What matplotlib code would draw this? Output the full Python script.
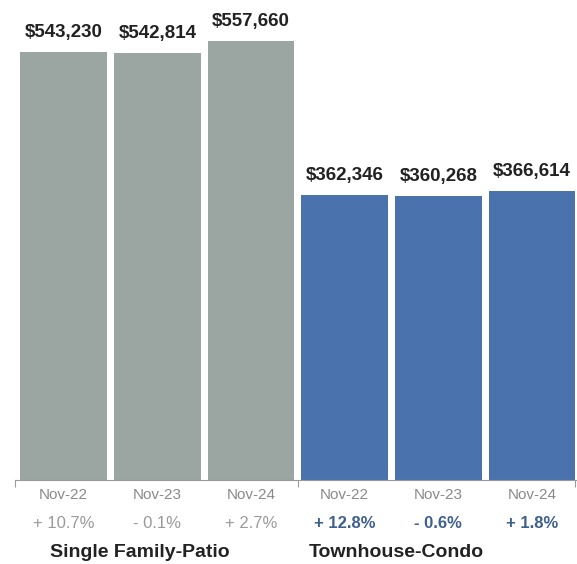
import matplotlib.pyplot as plt

plt.rcParams['font.family'] = ['Liberation Sans', 'DejaVu Sans']

# median sale price, November of each year
months = ['Nov-22', 'Nov-23', 'Nov-24']
single_family = [543230, 542814, 557660]
townhouse = [362346, 360268, 366614]
sf_change = ['+ 10.7%', '- 0.1%', '+ 2.7%']
th_change = ['+ 12.8%', '- 0.6%', '+ 1.8%']
groups = ['Single Family-Patio', 'Townhouse-Condo']

gray = '#9ba5a1'
blue = '#4a73ad'

fig = plt.figure(figsize=(5.77, 5.64), dpi=100)
ax = fig.add_axes([15 / 577, 84 / 564, 562 / 577, 480 / 564])

values = single_family + townhouse
colors = [gray] * 3 + [blue] * 3
xs = list(range(6))
bars = ax.bar(xs, values, width=0.925, color=colors)

ax.set_xlim(-0.52, 5.48)
ax.set_ylim(0, 609750)

for b, v in zip(bars, values):
    ax.annotate(f'${v:,}', (b.get_x() + b.get_width() / 2, v),
                xytext=(0, 8), textcoords='offset points',
                ha='center', va='bottom', fontsize=13.5,
                fontweight='bold', color='#222222')

labels = months + months
changes = sf_change + th_change
for i, x in enumerate(xs):
    ax.annotate(labels[i], (x, 0), xycoords=('data', 'axes fraction'),
                xytext=(0, -11), textcoords='offset points',
                ha='center', va='center', fontsize=11, color='#8a8a8a')
    if i < 3:
        ax.annotate(changes[i], (x, 0), xycoords=('data', 'axes fraction'),
                    xytext=(0, -31), textcoords='offset points',
                    ha='center', va='center', fontsize=12, color='#9a9a9a')
    else:
        ax.annotate(changes[i], (x, 0), xycoords=('data', 'axes fraction'),
                    xytext=(0, -31), textcoords='offset points',
                    ha='center', va='center', fontsize=12,
                    fontweight='bold', color='#3d5f92')

for gx, name in zip([0.81, 3.55], groups):
    ax.annotate(name, (gx, 0), xycoords=('data', 'axes fraction'),
                xytext=(0, -52), textcoords='offset points',
                ha='center', va='center', fontsize=14,
                fontweight='bold', color='#222222')

for side in ['top', 'right', 'left']:
    ax.spines[side].set_visible(False)
ax.spines['bottom'].set_color('#9a9a9a')
ax.spines['bottom'].set_linewidth(0.8)
ax.set_yticks([])
ax.set_xticks([-0.52, 2.5, 5.46])
ax.set_xticklabels([])
ax.tick_params(axis='x', length=5, color='#9a9a9a', width=0.8)

fig.savefig('out.png', dpi=100)
